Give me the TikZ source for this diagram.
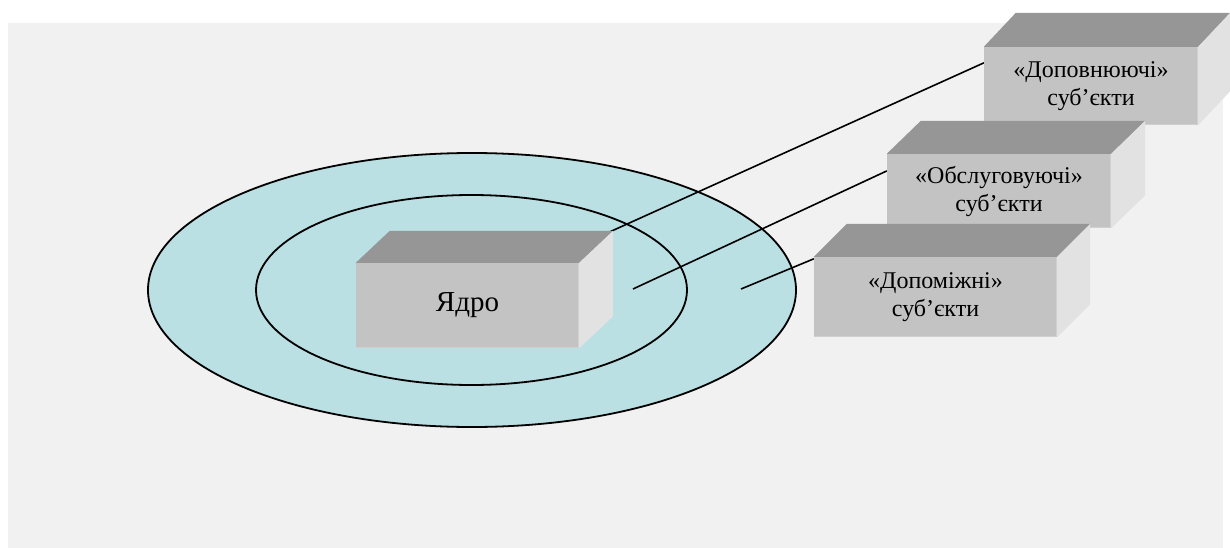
\documentclass[tikz,border=0pt]{standalone}
\usepackage{fontspec}
\setmainfont{Liberation Serif}
\usetikzlibrary{calc}
\pgfdeclarelayer{bglayer}
\pgfdeclarelayer{linklayer}
\pgfsetlayers{bglayer,linklayer,main}
\definecolor{bgc}{HTML}{F1F1F1}
\definecolor{ringc}{HTML}{BAE0E3}
\definecolor{frontc}{HTML}{C3C3C3}
\definecolor{topc}{HTML}{969696}
\definecolor{sidec}{HTML}{E2E2E2}
\definecolor{edgec}{HTML}{D0D0D0}
\tikzset{
  boxfront/.style={fill=frontc, inner sep=0pt, align=center, font=\fontsize{24}{28}\selectfont},
  ring/.style={draw=black, line width=1.8pt},
  link/.style={draw=black, line width=1.6pt},
  topface/.style={fill=topc},
  sideface/.style={fill=sidec},
  rim/.style={draw=edgec, line width=1.5pt}
}
\newcommand\boxfaces[3]{%
  \fill[topface] (#1.north west) -- ++(#2,-#3) -- ($(#1.north east)+(#2,-#3)$) -- (#1.north east) -- cycle;
  \fill[sideface] (#1.north east) -- ++(#2,-#3) -- ($(#1.south east)+(#2,-#3)$) -- (#1.south east) -- cycle;
  \draw[rim] ([yshift=0.75pt]#1.south west) -- ([xshift=-0.75pt,yshift=0.75pt]#1.south east) -- ([xshift=-0.75pt]#1.north east);
}
\begin{document}
\begin{tikzpicture}[x=1pt,y=-1pt]
\useasboundingbox (0,0) rectangle (1230,548);
\begin{pgfonlayer}{bglayer}
\fill[bgc] (8,23) rectangle (1223,548);
\path[ring, fill=ringc] (472,290) ellipse [x radius=324pt, y radius=137pt];
\path[ring] (471.5,290) ellipse [x radius=215.5pt, y radius=95pt];
\end{pgfonlayer}
% free ends of connectors
\coordinate (e1) at (605,234);
\coordinate (e2) at (633,289);
\coordinate (e3) at (741,289);
% boxes
\node[boxfront, minimum width=223pt, minimum height=85pt, font=\fontsize{29}{33}\selectfont] (core) at (467.5,305.5) {Ядро};
\boxfaces{core}{34}{32}
\node[boxfront, minimum width=214pt, minimum height=78pt] (b1) at (1091,86) {«Доповнюючі»\\суб’єкти};
\boxfaces{b1}{32}{34}
\node[boxfront, minimum width=224pt, minimum height=74pt] (b2) at (999,191) {«Обслуговуючі»\\суб’єкти};
\boxfaces{b2}{34}{33}
\node[boxfront, minimum width=243pt, minimum height=80pt] (b3) at (935.5,297) {«Допоміжні»\\суб’єкти};
\boxfaces{b3}{33}{33}
% connectors
\begin{pgfonlayer}{linklayer}
\draw[link] ($(b1.north west)!0.205!(b1.south west)$) -- (e1);
\draw[link] ($(b2.north west)!0.23!(b2.south west)$) -- (e2);
\draw[link] ($(b3.north west)!0.025!(b3.south west)$) -- (e3);
\end{pgfonlayer}
\end{tikzpicture}
\end{document}
